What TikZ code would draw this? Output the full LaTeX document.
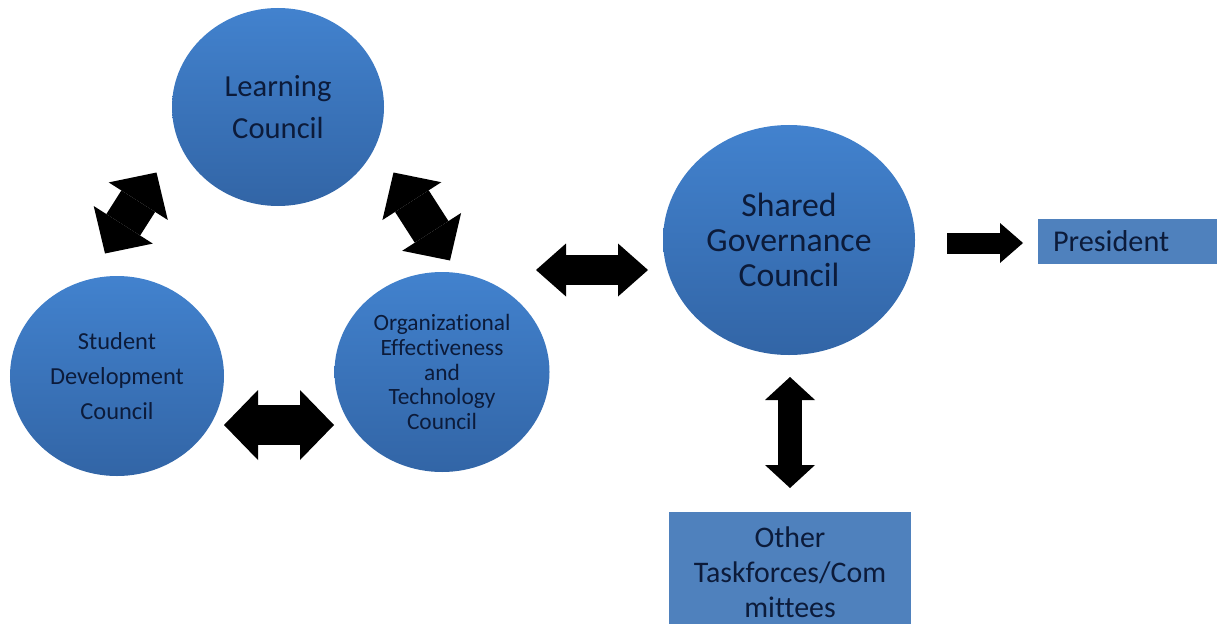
\documentclass[tikz,border=0pt]{standalone}
\usepackage{fontspec}
\setmainfont{Carlito}[Ligatures={NoCommon,NoRequired,NoContextual},RawFeature={-calt}]
\usetikzlibrary{arrows.meta, shapes.geometric, positioning}
\definecolor{discTop}{RGB}{66,130,206}
\definecolor{discBottom}{RGB}{50,101,166}
\definecolor{boxBlue}{RGB}{79,129,189}
\definecolor{inkBlue}{RGB}{12,27,58}

\begin{document}
\begin{tikzpicture}[
        council/.style={
            ellipse,
            top color=discTop,
            bottom color=discBottom,
            text=inkBlue,
            align=center,
            inner sep=0pt,
        },
        panel/.style={
            rectangle,
            fill=boxBlue,
            text=inkBlue,
            inner sep=0pt,
        },
        BigTwoWay/.style={
            line width=.8cm,
            {Triangle[length=.68cm,width=1.4cm,line width=0pt]}-{Triangle[length=.68cm,width=1.4cm,line width=0pt]},
        },
        MidTwoWay/.style={
            line width=.6cm,
            {Triangle[length=.6cm,width=1.06cm,line width=0pt]}-{Triangle[length=.6cm,width=1.06cm,line width=0pt]},
        },
        SlimTwoWay/.style={
            line width=.48cm,
            {Triangle[length=.46cm,width=1cm,line width=0pt]}-{Triangle[length=.46cm,width=1cm,line width=0pt]},
        },
        OneWay/.style={
            line width=.42cm,
            -{Triangle[length=.46cm,width=.8cm,line width=0pt]},
        },
    ]

    % Page frame
    \useasboundingbox (0,0) rectangle (24.4,12.46);

    % Draw the councils
    \node [council, minimum width=4.24cm, minimum height=3.96cm,
        font=\fontsize{17.4}{23.9}\selectfont] (learning) at (5.56,10.32) {Learning\\Council};
    \node [council, minimum width=4.28cm, minimum height=4cm,
        font=\fontsize{13.9}{19.8}\selectfont] (student) at (2.34,4.94) {Student\\Development\\Council};
    \node [council, minimum width=4.3cm, minimum height=4cm,
        font=\fontsize{13.3}{14}\selectfont] (orgtech) at (8.84,5.02) {Organizational\\Effectiveness\\and\\Technology\\Council};
    \node [council, minimum width=5.04cm, minimum height=4.6cm,
        font=\fontsize{19.2}{19.8}\selectfont] (shared) at (15.78,7.66) {Shared\\Governance\\Council};

    % Draw the boxes
    \node [panel, minimum width=3.58cm, minimum height=.9cm, text width=2.98cm,
        inner xsep=.3cm, align=left,
        font=\fontsize{17.2}{20}\selectfont] (president) at (22.55,7.63) {President};
    \node [panel, minimum width=4.84cm, minimum height=2.4cm, align=center,
        font=\fontsize{17}{19.9}\selectfont] (others) at (15.8,1.02) {Other\\Taskforces/Com\\mittees};

    % Arrow ends named e#
    \coordinate (e1) at (2.10,7.39);
    \coordinate (e2) at (3.13,9.01);
    \coordinate (e3) at (7.87,9.01);
    \coordinate (e4) at (9.00,7.25);
    \coordinate (e5) at (4.48,3.96);
    \coordinate (e6) at (6.68,3.96);
    \coordinate (e7) at (10.72,7.06);
    \coordinate (e8) at (12.96,7.06);
    \coordinate (e9) at (18.94,7.6);
    \coordinate (e10) at (20.46,7.6);
    \coordinate (e11) at (15.8,4.92);
    \coordinate (e12) at (15.8,2.7);

    % Drawing arrows
    \draw [BigTwoWay] (e1) -- (e2);
    \draw [BigTwoWay] (e3) -- (e4);
    \draw [BigTwoWay] (e5) -- (e6);
    \draw [MidTwoWay] (e7) -- (e8);
    \draw [OneWay] (e9) -- (e10);
    \draw [SlimTwoWay] (e11) -- (e12);

\end{tikzpicture}
\end{document}
